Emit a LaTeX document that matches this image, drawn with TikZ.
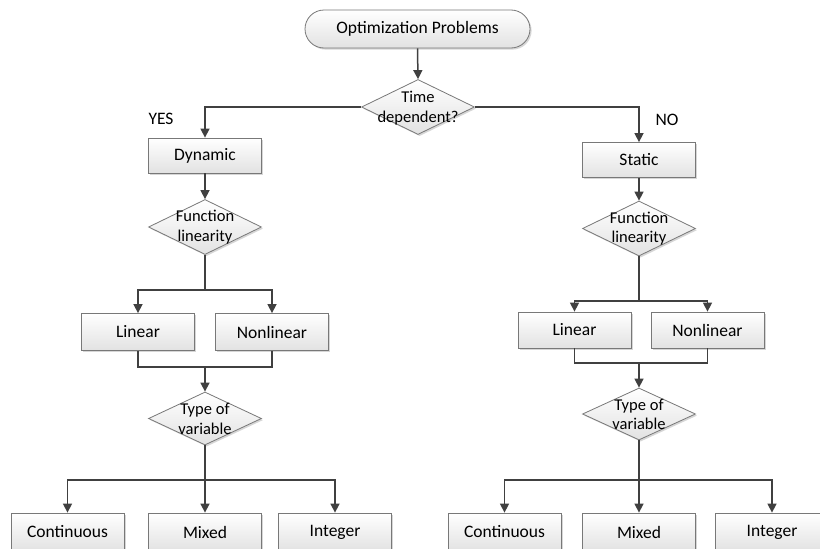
\documentclass[tikz,border=0pt]{standalone}
\usepackage{fontspec}
\setmainfont{Carlito}
\usetikzlibrary{shapes.geometric,arrows.meta,shadows}
\definecolor{linec}{HTML}{404040}
\definecolor{edgec}{HTML}{787878}
\definecolor{fillb}{HTML}{E2E2E2}
\tikzset{
  base/.style={draw=edgec, line width=0.8pt, top color=white, bottom color=fillb,
    drop shadow={shadow xshift=1.6pt, shadow yshift=-1.6pt, fill=gray!45, opacity=0.7},
    inner sep=0pt, font=\fontsize{17.5}{20}\selectfont},
  box/.style={base, rectangle, minimum width=113pt, minimum height=37pt},
  term/.style={base, rectangle, rounded corners=19pt, minimum width=225pt, minimum height=38pt},
  dia/.style={base, diamond, minimum width=113pt, minimum height=55pt},
  dtext/.style={align=center, inner sep=0pt, font=\fontsize{16.5}{19.5}\selectfont},
  tag/.style={inner sep=0pt, font=\fontsize{17.5}{20}\selectfont},
  conn/.style={draw=linec, line width=1.5pt},
  arr/.style={conn, -{Triangle[length=9pt,width=9pt]}},
}
\begin{document}
\begin{tikzpicture}[x=1pt, y=-1pt]
\clip (0,0) rectangle (820,549);
\fill[white] (0,0) rectangle (820,549);

% root and first decision
\node[term] (root) at (417.5,29) {Optimization Problems};
\node[dia] (d1) at (418,107) {};
\node[dtext] (d1t) at (418,108) {Time\\dependent?};
\node[tag] (yes) at (161,119) {YES};
\node[tag] (no) at (667,120) {NO};

% left branch
\node[box, minimum height=35pt] (dyn) at (205,155.5) {Dynamic};
\node[dia] (fl1) at (205,227) {};
\node[dtext] (fl1t) at (205,227) {Function\\linearity};
\coordinate (j1) at (205,290);
\node[box] (lin1) at (138,332) {Linear};
\node[box] (nl1) at (272,332) {Nonlinear};
\coordinate (m1) at (205,367);
\node[dia, minimum height=53pt] (tv1) at (205,418.5) {};
\node[dtext] (tv1t) at (205,419) {Type of\\variable};
\coordinate (k1) at (205,480);
\node[box, minimum height=38pt] (con1) at (67.5,532) {Continuous};
\node[box, minimum height=38pt] (mix1) at (205,532) {Mixed};
\node[box, minimum height=38pt] (int1) at (335,532) {Integer};

% right branch
\node[box, minimum height=35pt] (sta) at (639,160) {Static};
\node[dia] (fl2) at (639,228.5) {};
\node[dtext] (fl2t) at (639,228.5) {Function\\linearity};
\coordinate (j2) at (639,301);
\node[box, minimum height=36pt] (lin2) at (574.5,330) {Linear};
\node[box, minimum height=36pt] (nl2) at (707.5,330) {Nonlinear};
\coordinate (m2) at (639,363);
\node[dia, minimum height=52pt] (tv2) at (639,414) {};
\node[dtext] (tv2t) at (639,414.5) {Type of\\variable};
\coordinate (k2) at (639,480);
\node[box, minimum height=38pt] (con2) at (504.5,532) {Continuous};
\node[box, minimum height=38pt] (mix2) at (639,532) {Mixed};
\node[box, minimum height=38pt] (int2) at (772,532) {Integer};

% connectors
\draw[arr] (root.south) -- (d1.north);
\draw[arr] (d1.west) -| (dyn.north);
\draw[arr] (d1.east) -| (sta.north);

\draw[arr] (dyn.south) -- (fl1.north);
\draw[conn] (fl1.south) -- (j1);
\draw[arr] (j1) -| (lin1.north);
\draw[arr] (j1) -| (nl1.north);
\draw[conn] (lin1.south) |- (m1);
\draw[conn] (nl1.south) |- (m1);
\draw[arr] (m1) -- (tv1.north);
\draw[conn] (tv1.south) -- (k1);
\draw[arr] (k1) -| (con1.north);
\draw[arr] (k1) -- (mix1.north);
\draw[arr] (k1) -| (int1.north);

\draw[arr] (sta.south) -- (fl2.north);
\draw[conn] (fl2.south) -- (j2);
\draw[arr] (j2) -| (lin2.north);
\draw[arr] (j2) -| (nl2.north);
\draw[conn] (lin2.south) |- (m2);
\draw[conn] (nl2.south) |- (m2);
\draw[arr] (m2) -- (tv2.north);
\draw[conn] (tv2.south) -- (k2);
\draw[arr] (k2) -| (con2.north);
\draw[arr] (k2) -- (mix2.north);
\draw[arr] (k2) -| (int2.north);
\end{tikzpicture}
\end{document}
